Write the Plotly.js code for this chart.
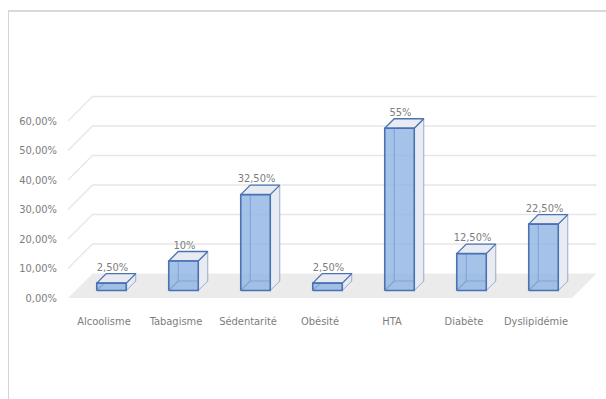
<!DOCTYPE html>
<html>
<head>
<meta charset="utf-8">
<script src="https://cdn.plot.ly/plotly-3.0.1.min.js"></script>
<style>
  html, body { margin: 0; padding: 0; background: #ffffff; }
  #frame { position: absolute; left: 8px; top: 10px; width: 598px; height: 389px;
           border-top: 2px solid #d9d9d9; border-left: 1px solid #d4d4d4; box-sizing: border-box; }
  #chart { position: absolute; left: 0; top: 0; width: 606px; height: 399px; }
</style>
</head>
<body>
<div id="frame"></div>
<div id="chart"></div>
<script>
// ---- data ----
const categories = ['Alcoolisme', 'Tabagisme', 'Sédentarité', 'Obésité', 'HTA', 'Diabète', 'Dyslipidémie'];
const values = [2.5, 10, 32.5, 2.5, 55, 12.5, 22.5];
const valueLabels = ['2,50%', '10%', '32,50%', '2,50%', '55%', '12,50%', '22,50%'];
const yTicks = [0, 10, 20, 30, 40, 50, 60];
const yTickLabels = ['0,00%', '10,00%', '20,00%', '30,00%', '40,00%', '50,00%', '60,00%'];

// ---- oblique projection settings (pixels per unit) ----
const PX_X = 72, PX_Y = 2.95;
const FLOOR_DEPTH = 24.5, T1 = 7.5, T2 = 17, HALF = 0.205;
const FONT = '"DejaVu Sans Condensed", "Liberation Sans Narrow", Arial, sans-serif';
const FSIZE = 11;
const GRAY_TXT = '#7d7d7d';
const EDGE = '#4a72b2';

function P(x, y, t) { return [x + t / PX_X, y + t / PX_Y]; }
function poly(pts, fill, lineColor, lineWidth, closed) {
  const xs = pts.map(p => p[0]), ys = pts.map(p => p[1]);
  if (closed) { xs.push(xs[0]); ys.push(ys[0]); }
  const tr = { type: 'scatter', mode: 'lines', x: xs, y: ys, hoverinfo: 'skip', showlegend: false,
    line: { color: lineColor || 'rgba(0,0,0,0)', width: lineWidth || 0 }, cliponaxis: false };
  if (fill) { tr.fill = 'toself'; tr.fillcolor = fill; }
  return tr;
}

const traces = [];
const xL = -0.5, xR = categories.length - 0.5;

// floor
traces.push(poly([P(xL, 0, 0), P(xR, 0, 0), P(xR, 0, FLOOR_DEPTH), P(xL, 0, FLOOR_DEPTH)], '#ebebeb', null, 0, true));
// gridlines (side wall + back wall)
yTicks.filter(v => v > 0).forEach(v => {
  traces.push(poly([P(xL, v, 0), P(xL, v, FLOOR_DEPTH), P(xR, v, FLOOR_DEPTH)], null, '#e6e6e6', 1.3, false));
});

// bars
values.forEach((v, i) => {
  const a = i - HALF, b = i + HALF;
  const fbl = P(a, 0, T1), fbr = P(b, 0, T1), ftl = P(a, v, T1), ftr = P(b, v, T1);
  const bbl = P(a, 0, T2), bbr = P(b, 0, T2), btl = P(a, v, T2), btr = P(b, v, T2);
  traces.push(poly([fbl, bbl, bbr], null, EDGE, 1.1, false));
  traces.push(poly([bbl, btl], null, EDGE, 1.1, false));
  traces.push(poly([fbr, bbr, btr, ftr], '#e8ecf2', '#98aac6', 1, true));
  traces.push(poly([ftl, ftr, btr, btl], '#e8ecf2', EDGE, 1.3, true));
  traces.push(poly([fbl, fbr, ftr, ftl], 'rgba(140,178,226,0.78)', EDGE, 1.6, true));
});

// value labels
traces.push({
  type: 'scatter', mode: 'text', showlegend: false, hoverinfo: 'skip', cliponaxis: false,
  x: values.map((v, i) => i + (T1 + 1) / PX_X),
  y: values.map(v => v + T2 / PX_Y),
  text: valueLabels, textposition: 'top center',
  textfont: { family: FONT, size: FSIZE, color: GRAY_TXT }
});

const W = 606, H = 399, L = 62, R = 0, T = 80, B = 99;
const x0 = xL - (68 - L) / PX_X;
const x1 = x0 + (W - L - R) / PX_X;
const y1 = (298 - T) / PX_Y;
const y0 = y1 - (H - T - B) / PX_Y;

const layout = {
  width: W, height: H,
  margin: { l: L, r: R, t: T, b: B, pad: 0 },
  paper_bgcolor: 'rgba(0,0,0,0)', plot_bgcolor: 'rgba(0,0,0,0)',
  showlegend: false,
  font: { family: FONT, size: FSIZE, color: GRAY_TXT },
  xaxis: {
    range: [x0, x1], showgrid: false, zeroline: false, showline: false, ticks: '',
    tickmode: 'array', tickvals: categories.map((c, i) => i), ticktext: categories,
    ticklabelstandoff: 13,
    tickfont: { family: FONT, size: FSIZE, color: GRAY_TXT }, fixedrange: true
  },
  yaxis: {
    range: [y0, y1], showgrid: false, zeroline: false, showline: false, ticks: '',
    tickmode: 'array', tickvals: yTicks, ticktext: yTickLabels,
    ticklabelstandoff: 4,
    tickfont: { family: FONT, size: FSIZE, color: GRAY_TXT }, fixedrange: true
  }
};

Plotly.newPlot('chart', traces, layout, { staticPlot: true, displayModeBar: false });
</script>
</body>
</html>
